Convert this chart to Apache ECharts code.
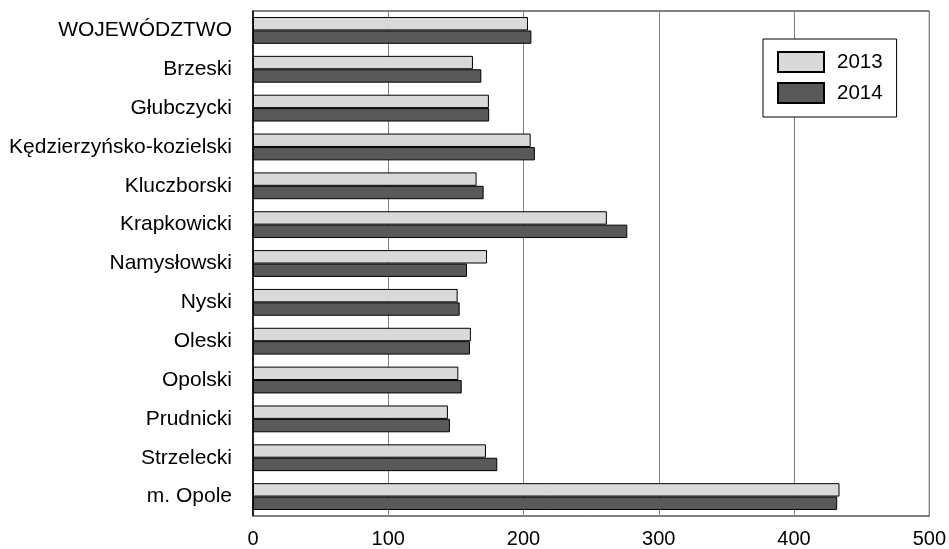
<!DOCTYPE html>
<html>
<head>
<meta charset="utf-8">
<script src="https://cdn.jsdelivr.net/npm/echarts@6/dist/echarts.min.js"></script>
<style>
html,body{margin:0;padding:0;background:#fff;}
#c{width:949px;height:549px;}
</style>
</head>
<body>
<div id="c"></div>
<script>
const categories = ["WOJEWÓDZTWO","Brzeski","Głubczycki","Kędzierzyńsko-kozielski","Kluczborski","Krapkowicki","Namysłowski","Nyski","Oleski","Opolski","Prudnicki","Strzelecki","m. Opole"];
const values2013 = [203.3,162.6,174.4,205.3,165.3,261.6,173.0,151.3,161.1,151.8,144.1,172.2,433.6];
const values2014 = [205.8,168.8,174.6,208.4,170.5,276.7,158.2,152.8,160.4,154.3,145.6,180.6,431.9];
const xTicks = [0,100,200,300,400,500];
const seriesNames = ["2013","2014"];

const chart = echarts.init(document.getElementById('c'), null, {renderer:'canvas'});
const font = '"Liberation Sans", Arial, sans-serif';
chart.setOption({
  animation:false,
  backgroundColor:'#fff',
  grid:{left:253,right:19,top:11,bottom:33,show:true,borderColor:'#000',borderWidth:1,backgroundColor:'transparent'},
  legend:{
    orient:'vertical',left:763,top:39,
    padding:[12,14,13,14],
    itemWidth:46,itemHeight:20,itemGap:9,
    icon:'rect',
    backgroundColor:'#fff',borderColor:'#000',borderWidth:1,
    textStyle:{fontFamily:font,fontSize:20.5,color:'#000',padding:[0,0,0,8]},
    data:seriesNames
  },
  xAxis:{
    type:'value',min:xTicks[0],max:xTicks[xTicks.length-1],interval:100,
    axisLine:{show:true,lineStyle:{color:'#808080',width:1}},
    axisTick:{show:false},
    axisLabel:{fontFamily:font,fontSize:20,color:'#000',margin:13},
    splitLine:{show:true,lineStyle:{color:'#808080',width:1}}
  },
  yAxis:{
    type:'category',data:categories,inverse:true,
    axisLine:{show:true,lineStyle:{color:'#000',width:1.5}},
    axisTick:{show:false},
    axisLabel:{fontFamily:font,fontSize:21,color:'#000',margin:21}
  },
  series:[
    {name:seriesNames[0],type:'bar',data:values2013,barGap:'0%',barCategoryGap:'31%',
     itemStyle:{color:'#d9d9d9',borderColor:'#000',borderWidth:1}},
    {name:seriesNames[1],type:'bar',data:values2014,barGap:'0%',barCategoryGap:'31%',
     itemStyle:{color:'#595959',borderColor:'#000',borderWidth:1}}
  ]
});
</script>
</body>
</html>
